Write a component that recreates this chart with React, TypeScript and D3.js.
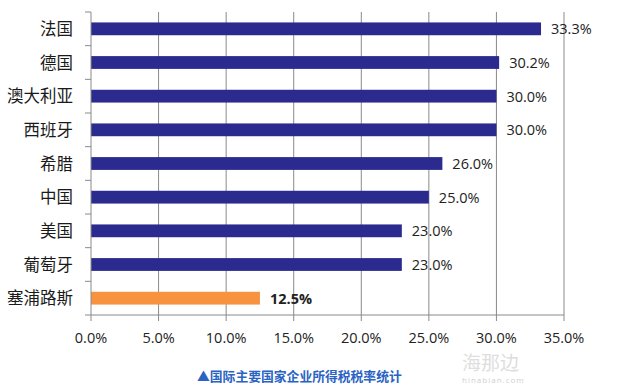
import React from "react";
import * as d3 from "d3";

const categories = ["法国", "德国", "澳大利亚", "西班牙", "希腊", "中国", "美国", "葡萄牙", "塞浦路斯"];
const rates = [33.3, 30.2, 30.0, 30.0, 26.0, 25.0, 23.0, 23.0, 12.5];
const highlight = ["塞浦路斯"];
const xTicks = [0, 5, 10, 15, 20, 25, 30, 35];
const caption = "▲国际主要国家企业所得税税率统计";

const W = 618;
const H = 390;
const left = 91;
const right = 564;
const top = 12;
const bottom = 315;

export default function App() {
  const x = d3.scaleLinear().domain([0, 35]).range([left, right]);
  const y = d3.scaleBand<string>().domain(categories).range([top, bottom]).paddingInner(0.62).paddingOuter(0.31);
  const yb = d3.scaleBand<string>().domain(categories).range([top, bottom]);
  const font = "'Open Sans', 'Noto Sans CJK SC', sans-serif";
  const cjk = "'Noto Sans CJK SC', sans-serif";
  return (
    <svg width={W} height={H} style={{ position: "absolute", left: 0, top: 0, background: "#fff" }}>
      <rect x={0} y={0} width={W} height={H} fill="#fff" />
      {xTicks.slice(1).map((t) => (
        <line key={"g" + t} x1={x(t)} x2={x(t)} y1={top} y2={bottom} stroke="#8a8a8a" strokeWidth={1} />
      ))}
      {categories.map((c, i) => (
        <rect
          key={c}
          x={x(0)}
          y={y(c)}
          width={x(rates[i]) - x(0)}
          height={y.bandwidth()}
          fill={highlight.includes(c) ? "#F7923E" : "#2B2A8E"}
        />
      ))}
      <line x1={left} x2={left} y1={top} y2={bottom} stroke="#8a8a8a" />
      <line x1={left} x2={right} y1={bottom} y2={bottom} stroke="#8a8a8a" />
      {categories.map((c) => (
        <line key={"yt" + c} x1={left - 6} x2={left} y1={yb(c)} y2={yb(c)} stroke="#8a8a8a" />
      ))}
      <line x1={left - 6} x2={left} y1={bottom} y2={bottom} stroke="#8a8a8a" />
      {xTicks.map((t) => (
        <g key={"xt" + t}>
          <line x1={x(t)} x2={x(t)} y1={bottom} y2={bottom + 6} stroke="#8a8a8a" />
          <text x={x(t)} y={bottom + 28} textAnchor="middle" fontFamily={font} fontSize={14.5} fill="#222">
            {t.toFixed(1) + "%"}
          </text>
        </g>
      ))}
      {categories.map((c, i) => (
        <g key={"l" + c}>
          <text
            x={73}
            y={(yb(c) as number) + yb.bandwidth() / 2 + 6}
            textAnchor="end"
            fontFamily={cjk}
            fontSize={16.5}
            fill="#1a1a1a"
          >
            {c}
          </text>
          <text
            x={x(rates[i]) + 10}
            y={(y(c) as number) + y.bandwidth() / 2 + 5.5}
            fontFamily={font}
            fontSize={14.5}
            fontWeight={highlight.includes(c) ? 700 : 400}
            fill="#222"
          >
            {rates[i].toFixed(1) + "%"}
          </text>
        </g>
      ))}
      <text x={197} y={381} fontFamily={cjk} fontSize={12.8} fontWeight={700} fill="#2A63C4">
        {caption}
      </text>
      <text x={462} y={370} fontFamily={cjk} fontSize={19} fill="#d6d6d6" opacity={0.8}>
        海那边
      </text>
      <text x={462} y={383} fontFamily={font} fontSize={8} fill="#cfcfcf" letterSpacing={1}>
        hinabian.com
      </text>
    </svg>
  );
}
